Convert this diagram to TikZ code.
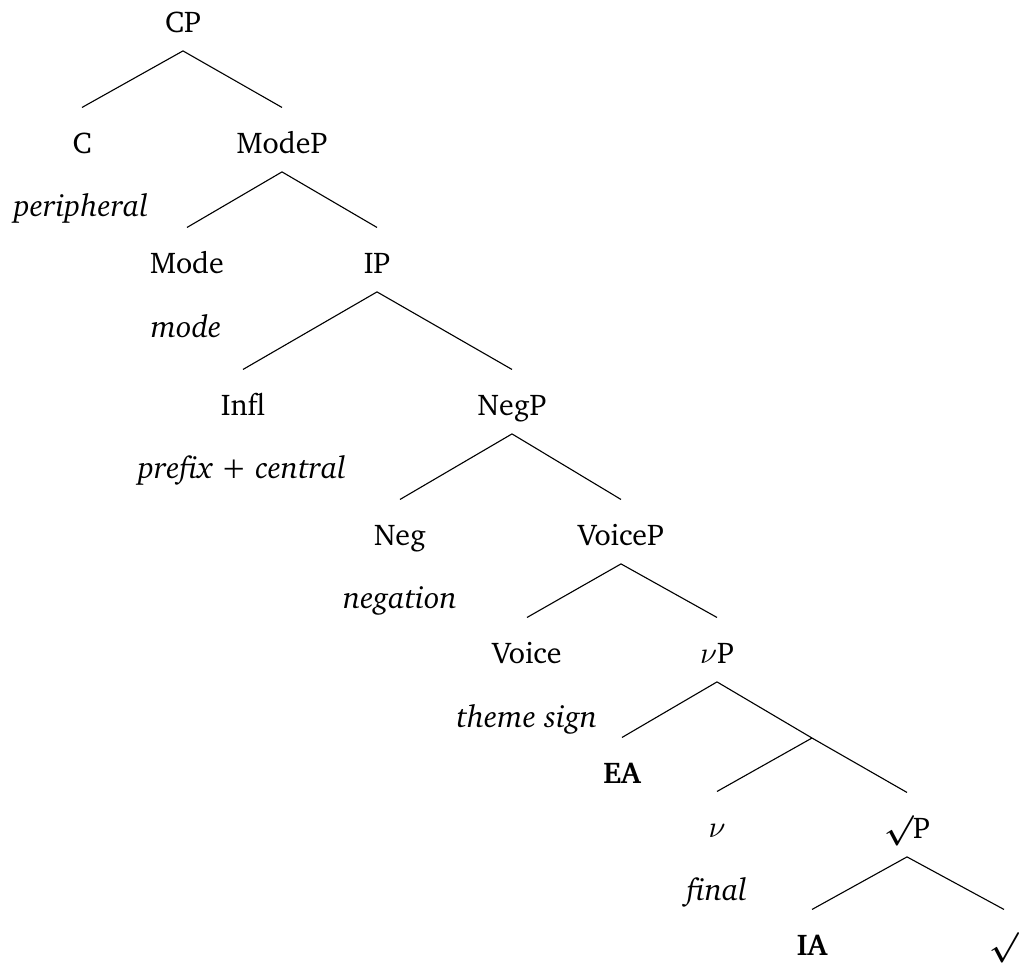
\documentclass[tikz,border=0pt]{standalone}
\usepackage[T1]{fontenc}
\usepackage{charter}
\usepackage{amsmath}
\begin{document}
\begin{tikzpicture}[x=0.36pt,y=-0.36pt,
  lab/.style={anchor=base,inner sep=0pt,font=\fontsize{10.8}{13}\selectfont},
  gl/.style={anchor=base,inner sep=0pt,font=\fontsize{11.2}{13}\selectfont\itshape},
  br/.style={line width=0.4pt},
  top/.style={yshift=-6.8pt},
  bot/.style={yshift=16.4pt}]
\useasboundingbox (0,0) rectangle (1019,963);
% nodes
\node[lab] (CP) at (183,32) {CP};
\node[lab] (C) at (82,153) {C};
\node[lab] (ModeP) at (282,153) {ModeP};
\node[gl] (gC) at (81,216) {peripheral};
\node[lab] (Mode) at (187,273) {Mode};
\node[lab] (IP) at (377,273) {IP};
\node[gl] (gMode) at (186,337) {mode};
\node[lab] (Infl) at (243,415) {Infl};
\node[lab] (NegP) at (512,415) {NegP};
\node[gl] (gInfl) at (242,478) {prefix + central};
\node[lab] (Neg) at (400,545) {Neg};
\node[lab] (VoiceP) at (621,545) {VoiceP};
\node[gl] (gNeg) at (400,608) {negation};
\node[lab] (Voice) at (527,663) {Voice};
\node[lab] (vP) at (717,663) {$\nu$P};
\node[gl] (gVoice) at (527,727) {theme sign};
\node[lab] (EA) at (622,783) {\bfseries EA};
\coordinate (vbar) at (812,738);
\node[lab] (v) at (717,837) {$\nu$};
\node[lab] (rootP) at (907,838) {$\boldsymbol{\surd}$P};
\node[gl] (gv) at (717,900) {final};
\node[lab] (IA) at (812,955) {\bfseries IA};
\node[lab] (root) at (1004,955) {$\boldsymbol{\surd}$};
% branches
\draw[br] ([top]CP.base) -- ([bot]C.base);
\draw[br] ([top]CP.base) -- ([bot]ModeP.base);
\draw[br] ([top]ModeP.base) -- ([bot]Mode.base);
\draw[br] ([top]ModeP.base) -- ([bot]IP.base);
\draw[br] ([top]IP.base) -- ([bot]Infl.base);
\draw[br] ([top]IP.base) -- ([bot]NegP.base);
\draw[br] ([top]NegP.base) -- ([bot]Neg.base);
\draw[br] ([top]NegP.base) -- ([bot]VoiceP.base);
\draw[br] ([top]VoiceP.base) -- ([bot]Voice.base);
\draw[br] ([top]VoiceP.base) -- ([bot]vP.base);
\draw[br] ([top]vP.base) -- ([bot]EA.base);
\draw[br] ([top]vP.base) -- (vbar);
\draw[br] (vbar) -- ([bot]v.base);
\draw[br] (vbar) -- ([bot]rootP.base);
\draw[br] ([top]rootP.base) -- ([bot]IA.base);
\draw[br] ([top]rootP.base) -- ([bot]root.base);
\end{tikzpicture}
\end{document}
